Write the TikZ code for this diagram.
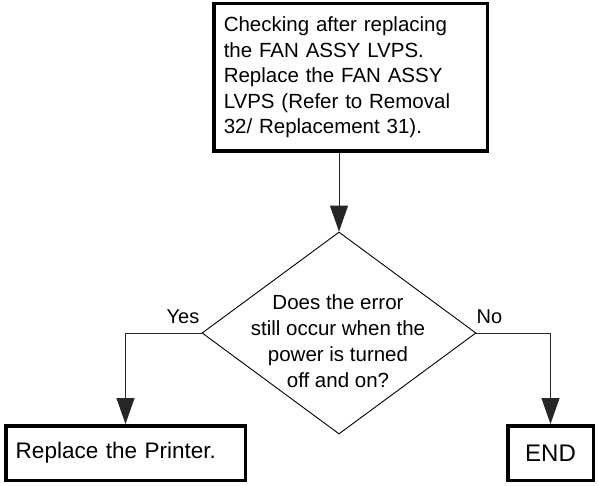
\documentclass[tikz,border=0pt]{standalone}
\usepackage{fontspec}
\setmainfont{Liberation Sans}
\usetikzlibrary{arrows.meta,shapes.geometric}

\tikzset{
  procbox/.style={draw, line width=3.5pt, inner sep=0pt, inner xsep=10pt},
  decision/.style={draw, diamond, line width=0.9pt, inner sep=0pt,
    minimum width=274pt, minimum height=202pt},
  flowarrow/.style={line width=1pt, draw=black!85, -{Triangle[length=26pt,width=18pt]}},
  lbl/.style={font=\fontsize{20}{24}\selectfont}
}

\begin{document}
\begin{tikzpicture}[x=1pt, y=-1pt]
    \useasboundingbox (0,0) rectangle (599,486);

    % Kotak pemeriksaan
    \node[procbox, minimum width=273.5pt, minimum height=147.5pt,
          text width=253.5pt, align=left,
          font=\fontsize{20.5}{25.5}\selectfont] (check) at (350.5,77.5)
          {Checking after replacing\\the FAN ASSY LVPS.\\Replace the FAN ASSY\\LVPS (Refer to Removal\\32/ Replacement 31).};

    % Keputusan
    \node[decision] (dec) at (339,333) {};
    \node[align=center, inner sep=0pt, font=\fontsize{20.5}{26}\selectfont] (quest) at (338,341.5)
          {Does the error\\still occur when the\\power is turned\\off and on?};

    % Yes -> ganti printer
    \node[procbox, minimum width=239.5pt, minimum height=54.5pt,
          text width=219.5pt, align=left,
          font=\fontsize{22.5}{26}\selectfont] (replace) at (125.5,453) {Replace the Printer.};

    % No -> selesai
    \node[procbox, minimum width=85.5pt, minimum height=54.5pt, align=center,
          font=\fontsize{24}{26}\selectfont] (finish) at (550.5,453) {END};

    % Panah
    \draw[flowarrow] (check.south -| dec.north) -- (dec.north);
    \draw[flowarrow] (dec.west) -| (replace.north);
    \draw[flowarrow] (dec.east) -| (finish.north);

    % Label cabang
    \node[lbl, anchor=base east, inner sep=0pt] (yes) at ([xshift=-2pt,yshift=10pt]dec.west) {Yes};
    \node[lbl, anchor=base west, inner sep=0pt] (no) at ([xshift=0pt,yshift=10pt]dec.east) {No};
\end{tikzpicture}
\end{document}
